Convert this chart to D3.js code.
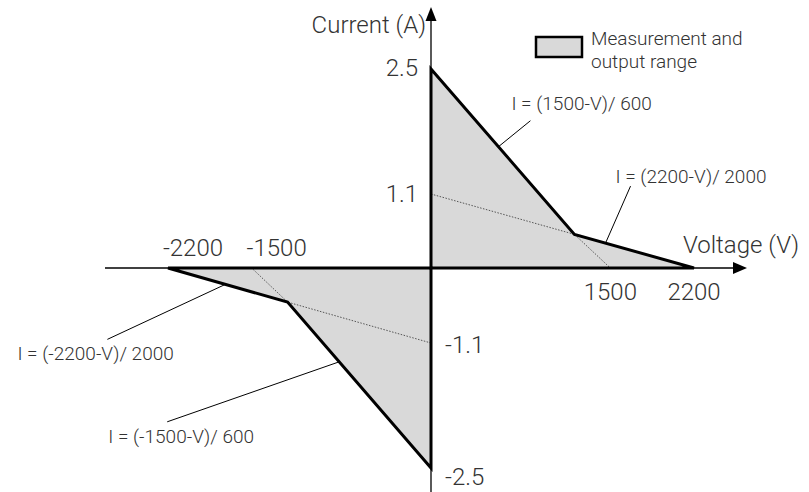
<!DOCTYPE html>
<html>
<head>
<meta charset="utf-8">
<script src="https://cdn.jsdelivr.net/npm/d3@7"></script>
<style>
  body { margin: 0; background: #fff; }
  text { font-family: Roboto, 'Open Sans', sans-serif; font-weight: 300; fill: #333; }
</style>
</head>
<body>
<div class="chart"></div>
<script>
// operating quadrants: voltage (V) / current (A) corner points
const posVoltage = [0, 1200, 2200, 0];
const posCurrent = [2.5, 0.5, 0, 0];
const negVoltage = [0, -1200, -2200, 0];
const negCurrent = [-2.5, -0.5, 0, 0];

// dotted extension lines
const dotVoltage = [[0, 1200, 1500], [0, -1200, -1500]];
const dotCurrent = [[1.1, 0.5, 0], [-1.1, -0.5, 0]];

const xTicks = [-2200, -1500, 1500, 2200];
const yTicks = [2.5, 1.1, -1.1, -2.5];

const formulas = ['I = (1500-V)/ 600', 'I = (2200-V)/ 2000', 'I = (-2200-V)/ 2000', 'I = (-1500-V)/ 600'];

const width = 809, height = 492;

const svg = d3.select('.chart').append('svg')
  .attr('width', width)
  .attr('height', height);

const x = d3.scaleLinear()
  .domain([-2200, 2200])
  .range([168, 694]);

// drawing is schematic, so current axis is not to scale
const y = d3.scaleLinear()
  .domain([-2.5, -1.1, 0, 1.1, 2.5])
  .range([468, 343, 268, 194, 69]);

const fillCol = '#d9d9d9';

const toPts = (vs, is) => vs.map((v, i) => [x(v), y(is[i])]);
const line = d3.line();

const polys = [toPts(posVoltage, posCurrent), toPts(negVoltage, negCurrent)];

svg.selectAll('path.area')
  .data(polys)
  .enter()
  .append('path')
  .attr('class', 'area')
  .attr('d', d => line(d) + 'Z')
  .attr('fill', fillCol)
  .attr('stroke', 'none');

// dotted lines
dotVoltage.forEach((vs, k) => {
  svg.append('path')
    .attr('d', line(toPts(vs, dotCurrent[k])))
    .attr('fill', 'none')
    .attr('stroke', '#333')
    .attr('stroke-width', 0.8)
    .attr('stroke-dasharray', '1.5,1.5');
});

// axes
svg.append('line')
  .attr('x1', 105).attr('x2', 736)
  .attr('y1', y(0)).attr('y2', y(0))
  .attr('stroke', '#000').attr('stroke-width', 1.3);
svg.append('path')
  .attr('d', `M747,${y(0)} L733,${y(0) - 6} L733,${y(0) + 6} Z`)
  .attr('fill', '#000');

svg.append('line')
  .attr('x1', x(0)).attr('x2', x(0))
  .attr('y1', 18).attr('y2', height)
  .attr('stroke', '#000').attr('stroke-width', 1.3);
svg.append('path')
  .attr('d', `M${x(0)},7 L${x(0) - 5.5},21 L${x(0) + 5.5},21 Z`)
  .attr('fill', '#000');

// outlines on top
svg.selectAll('path.edge')
  .data(polys)
  .enter()
  .append('path')
  .attr('class', 'edge')
  .attr('d', d => line(d) + 'Z')
  .attr('fill', 'none')
  .attr('stroke', '#000')
  .attr('stroke-width', 3)
  .attr('stroke-linejoin', 'miter');

// tick labels
svg.selectAll('text.xt')
  .data(xTicks)
  .enter()
  .append('text')
  .attr('class', 'xt')
  .attr('x', d => x(d) + (d < 0 ? 25 : 0))
  .attr('y', d => d < 0 ? y(0) - 12 : y(0) + 32)
  .attr('text-anchor', 'middle')
  .style('font-size', '24px')
  .text(d => d);

const yDy = [7, 8, 10, 17];
svg.selectAll('text.yt')
  .data(yTicks)
  .enter()
  .append('text')
  .attr('class', 'yt')
  .attr('x', d => d > 0 ? x(0) - 13 : x(0) + 14)
  .attr('y', (d, i) => y(d) + yDy[i])
  .attr('text-anchor', d => d > 0 ? 'end' : 'start')
  .style('font-size', '24px')
  .text(d => d);

// axis titles
svg.append('text')
  .attr('x', x(0) - 5).attr('y', 33)
  .attr('text-anchor', 'end')
  .style('font-size', '24px')
  .text('Current (A)');

svg.append('text')
  .attr('x', 683).attr('y', 253)
  .style('font-size', '24px')
  .text('Voltage (V)');

// formula callouts: edge between two corners of a polygon, position along it, leader and label offsets
const callouts = [
  {poly: 0, from: 0, to: 1, t: 0.47, dx: 32, dy: -26, tx: -19, ty: -11},
  {poly: 0, from: 1, to: 2, t: 0.26, dx: 25, dy: -57, tx: -15, ty: -3},
  {poly: 1, from: 2, to: 1, t: 0.48, dx: -118, dy: 55, tx: -90, ty: 21},
  {poly: 1, from: 1, to: 0, t: 0.36, dx: -172, dy: 60, tx: -59, ty: 21}
];

callouts.forEach((c, i) => {
  const a = polys[c.poly][c.from], b = polys[c.poly][c.to];
  const ax = a[0] + (b[0] - a[0]) * c.t;
  const ay = a[1] + (b[1] - a[1]) * c.t;
  svg.append('line')
    .attr('x1', ax).attr('y1', ay)
    .attr('x2', ax + c.dx).attr('y2', ay + c.dy)
    .attr('stroke', '#000').attr('stroke-width', 1);
  svg.append('text')
    .attr('x', ax + c.dx + c.tx)
    .attr('y', ay + c.dy + c.ty)
    .style('font-size', '19px')
    .text(formulas[i]);
});

// legend
const lg = svg.append('g').attr('transform', 'translate(536,37)');
lg.append('rect')
  .attr('width', 46).attr('height', 20)
  .attr('fill', fillCol)
  .attr('stroke', '#000')
  .attr('stroke-width', 2.5);
lg.append('text')
  .attr('x', 55).attr('y', 8)
  .style('font-size', '19px')
  .text('Measurement and');
lg.append('text')
  .attr('x', 55).attr('y', 31)
  .style('font-size', '19px')
  .text('output range');
</script>
</body>
</html>
